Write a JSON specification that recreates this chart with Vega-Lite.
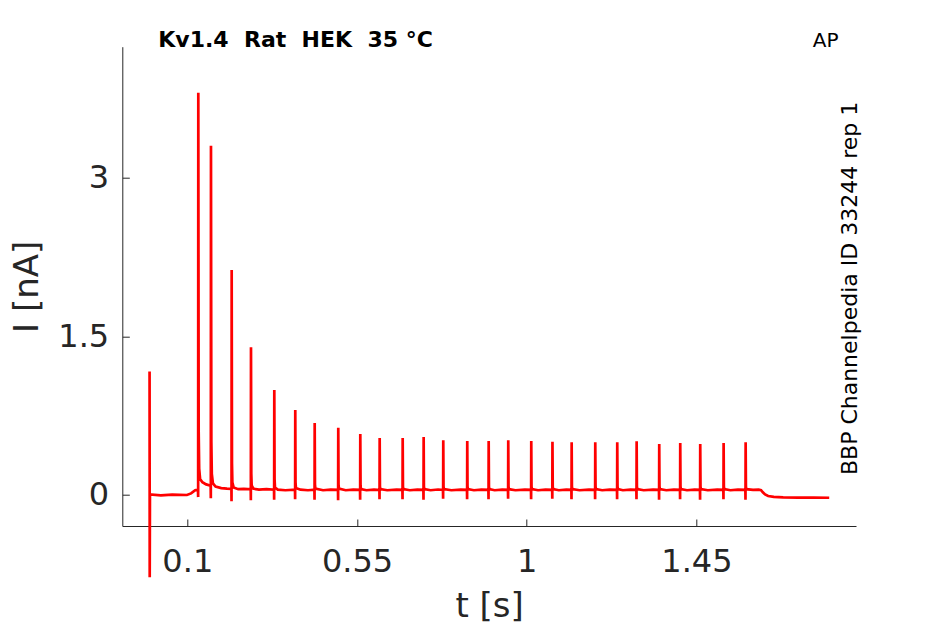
{
  "$schema": "https://vega.github.io/schema/vega-lite/v6.json",
  "autosize": {"type": "none"},
  "width": 733.7,
  "height": 479.3,
  "padding": {"left": 122.3, "top": 46.7, "right": 89, "bottom": 98},
  "background": "white",
  "config": {
    "view": {"stroke": null},
    "font": "DejaVu Sans",
    "axis": {
      "grid": false,
      "domainColor": "#262626",
      "domainWidth": 1,
      "tickColor": "#262626",
      "tickWidth": 1,
      "tickSize": -7,
      "labelFont": "DejaVu Sans",
      "labelFontSize": 32,
      "labelColor": "#262626",
      "titleFont": "DejaVu Sans",
      "titleFontSize": 34,
      "titleFontWeight": "normal",
      "titleColor": "#262626"
    }
  },
  "layer": [
    {
      "data": {
        "values": [
          {"t": 0.0000, "I": 1.166},
          {"t": 0.0004, "I": -0.778},
          {"t": 0.0010, "I": 0.005},
          {"t": 0.0300, "I": -0.004},
          {"t": 0.0600, "I": 0.003},
          {"t": 0.0990, "I": 0.0},
          {"t": 0.1100, "I": 0.015},
          {"t": 0.1210, "I": 0.045},
          {"t": 0.1284, "I": 0.05},
          {"t": 0.1288, "I": -0.02},
          {"t": 0.1292, "I": 3.80},
          {"t": 0.1302, "I": 0.6},
          {"t": 0.1315, "I": 0.25},
          {"t": 0.1340, "I": 0.15},
          {"t": 0.1400, "I": 0.12},
          {"t": 0.1500, "I": 0.10},
          {"t": 0.1600, "I": 0.09},
          {"t": 0.1620, "I": 0.088},
          {"t": 0.1624, "I": -0.03},
          {"t": 0.1628, "I": 3.30},
          {"t": 0.1638, "I": 0.5},
          {"t": 0.1650, "I": 0.2},
          {"t": 0.1680, "I": 0.11},
          {"t": 0.1750, "I": 0.08},
          {"t": 0.1900, "I": 0.065},
          {"t": 0.2050, "I": 0.06},
          {"t": 0.2170, "I": 0.058},
          {"t": 0.2173, "I": -0.06},
          {"t": 0.2177, "I": 2.127},
          {"t": 0.2185, "I": 0.3},
          {"t": 0.2195, "I": 0.12},
          {"t": 0.2230, "I": 0.07},
          {"t": 0.2350, "I": 0.055},
          {"t": 0.2500, "I": 0.058},
          {"t": 0.2682, "I": 0.055},
          {"t": 0.2685, "I": -0.05},
          {"t": 0.2689, "I": 1.396},
          {"t": 0.2697, "I": 0.2},
          {"t": 0.2707, "I": 0.09},
          {"t": 0.2750, "I": 0.06},
          {"t": 0.2900, "I": 0.05},
          {"t": 0.3100, "I": 0.055},
          {"t": 0.3300, "I": 0.05},
          {"t": 0.3303, "I": -0.045},
          {"t": 0.3307, "I": 0.993},
          {"t": 0.3314, "I": 0.15},
          {"t": 0.3325, "I": 0.07},
          {"t": 0.3400, "I": 0.05},
          {"t": 0.3600, "I": 0.045},
          {"t": 0.3856, "I": 0.05},
          {"t": 0.3859, "I": -0.04},
          {"t": 0.3863, "I": 0.804},
          {"t": 0.3870, "I": 0.12},
          {"t": 0.3880, "I": 0.065},
          {"t": 0.4000, "I": 0.05},
          {"t": 0.4200, "I": 0.045},
          {"t": 0.4371, "I": 0.05},
          {"t": 0.4374, "I": -0.045},
          {"t": 0.4378, "I": 0.681},
          {"t": 0.4385, "I": 0.1},
          {"t": 0.4395, "I": 0.06},
          {"t": 0.4600, "I": 0.045},
          {"t": 0.4800, "I": 0.05},
          {"t": 0.4996, "I": 0.048},
          {"t": 0.4999, "I": -0.05},
          {"t": 0.5003, "I": 0.636},
          {"t": 0.5010, "I": 0.1},
          {"t": 0.5020, "I": 0.06},
          {"t": 0.5200, "I": 0.045},
          {"t": 0.5400, "I": 0.05},
          {"t": 0.5580, "I": 0.048},
          {"t": 0.5583, "I": -0.045},
          {"t": 0.5587, "I": 0.577},
          {"t": 0.5594, "I": 0.09},
          {"t": 0.5605, "I": 0.055},
          {"t": 0.5750, "I": 0.045},
          {"t": 0.5950, "I": 0.05},
          {"t": 0.6094, "I": 0.047},
          {"t": 0.6097, "I": -0.04},
          {"t": 0.6101, "I": 0.539},
          {"t": 0.6108, "I": 0.08},
          {"t": 0.6120, "I": 0.055},
          {"t": 0.6300, "I": 0.045},
          {"t": 0.6550, "I": 0.05},
          {"t": 0.6704, "I": 0.048},
          {"t": 0.6707, "I": -0.04},
          {"t": 0.6711, "I": 0.539},
          {"t": 0.6718, "I": 0.08},
          {"t": 0.6730, "I": 0.055},
          {"t": 0.6900, "I": 0.045},
          {"t": 0.7100, "I": 0.05},
          {"t": 0.7260, "I": 0.048},
          {"t": 0.7263, "I": -0.045},
          {"t": 0.7267, "I": 0.548},
          {"t": 0.7274, "I": 0.08},
          {"t": 0.7285, "I": 0.055},
          {"t": 0.7450, "I": 0.045},
          {"t": 0.7650, "I": 0.052},
          {"t": 0.7780, "I": 0.048},
          {"t": 0.7783, "I": -0.035},
          {"t": 0.7787, "I": 0.517},
          {"t": 0.7794, "I": 0.08},
          {"t": 0.7805, "I": 0.055},
          {"t": 0.8000, "I": 0.045},
          {"t": 0.8250, "I": 0.05},
          {"t": 0.8416, "I": 0.048},
          {"t": 0.8419, "I": -0.04},
          {"t": 0.8423, "I": 0.511},
          {"t": 0.8430, "I": 0.08},
          {"t": 0.8441, "I": 0.055},
          {"t": 0.8600, "I": 0.045},
          {"t": 0.8800, "I": 0.05},
          {"t": 0.8984, "I": 0.048},
          {"t": 0.8987, "I": -0.04},
          {"t": 0.8991, "I": 0.511},
          {"t": 0.8998, "I": 0.08},
          {"t": 0.9009, "I": 0.055},
          {"t": 0.9150, "I": 0.045},
          {"t": 0.9350, "I": 0.05},
          {"t": 0.9503, "I": 0.048},
          {"t": 0.9506, "I": -0.035},
          {"t": 0.9510, "I": 0.517},
          {"t": 0.9517, "I": 0.08},
          {"t": 0.9528, "I": 0.055},
          {"t": 0.9700, "I": 0.045},
          {"t": 0.9950, "I": 0.05},
          {"t": 1.0113, "I": 0.048},
          {"t": 1.0116, "I": -0.04},
          {"t": 1.0120, "I": 0.511},
          {"t": 1.0127, "I": 0.08},
          {"t": 1.0138, "I": 0.055},
          {"t": 1.0300, "I": 0.045},
          {"t": 1.0500, "I": 0.05},
          {"t": 1.0675, "I": 0.048},
          {"t": 1.0678, "I": -0.035},
          {"t": 1.0682, "I": 0.504},
          {"t": 1.0689, "I": 0.08},
          {"t": 1.0700, "I": 0.055},
          {"t": 1.0850, "I": 0.045},
          {"t": 1.1050, "I": 0.05},
          {"t": 1.1184, "I": 0.048},
          {"t": 1.1187, "I": -0.04},
          {"t": 1.1191, "I": 0.498},
          {"t": 1.1198, "I": 0.08},
          {"t": 1.1209, "I": 0.055},
          {"t": 1.1400, "I": 0.045},
          {"t": 1.1650, "I": 0.05},
          {"t": 1.1810, "I": 0.048},
          {"t": 1.1813, "I": -0.04},
          {"t": 1.1817, "I": 0.498},
          {"t": 1.1824, "I": 0.08},
          {"t": 1.1835, "I": 0.055},
          {"t": 1.2000, "I": 0.045},
          {"t": 1.2200, "I": 0.05},
          {"t": 1.2393, "I": 0.048},
          {"t": 1.2396, "I": -0.04},
          {"t": 1.2400, "I": 0.498},
          {"t": 1.2407, "I": 0.08},
          {"t": 1.2418, "I": 0.055},
          {"t": 1.2550, "I": 0.045},
          {"t": 1.2750, "I": 0.05},
          {"t": 1.2907, "I": 0.048},
          {"t": 1.2910, "I": -0.04},
          {"t": 1.2914, "I": 0.508},
          {"t": 1.2921, "I": 0.08},
          {"t": 1.2932, "I": 0.055},
          {"t": 1.3100, "I": 0.045},
          {"t": 1.3350, "I": 0.05},
          {"t": 1.3506, "I": 0.048},
          {"t": 1.3509, "I": -0.045},
          {"t": 1.3513, "I": 0.482},
          {"t": 1.3520, "I": 0.08},
          {"t": 1.3531, "I": 0.055},
          {"t": 1.3700, "I": 0.045},
          {"t": 1.3900, "I": 0.05},
          {"t": 1.4063, "I": 0.048},
          {"t": 1.4066, "I": -0.04},
          {"t": 1.4070, "I": 0.492},
          {"t": 1.4077, "I": 0.08},
          {"t": 1.4088, "I": 0.055},
          {"t": 1.4250, "I": 0.045},
          {"t": 1.4450, "I": 0.05},
          {"t": 1.4593, "I": 0.048},
          {"t": 1.4596, "I": -0.045},
          {"t": 1.4600, "I": 0.482},
          {"t": 1.4607, "I": 0.08},
          {"t": 1.4618, "I": 0.055},
          {"t": 1.4800, "I": 0.045},
          {"t": 1.5050, "I": 0.05},
          {"t": 1.5213, "I": 0.048},
          {"t": 1.5216, "I": -0.04},
          {"t": 1.5220, "I": 0.492},
          {"t": 1.5227, "I": 0.08},
          {"t": 1.5238, "I": 0.055},
          {"t": 1.5400, "I": 0.045},
          {"t": 1.5600, "I": 0.05},
          {"t": 1.5797, "I": 0.048},
          {"t": 1.5800, "I": -0.045},
          {"t": 1.5804, "I": 0.498},
          {"t": 1.5811, "I": 0.08},
          {"t": 1.5822, "I": 0.055},
          {"t": 1.6000, "I": 0.048},
          {"t": 1.6150, "I": 0.05},
          {"t": 1.6213, "I": 0.045},
          {"t": 1.6260, "I": 0.025},
          {"t": 1.6320, "I": 0.005},
          {"t": 1.6400, "I": -0.01},
          {"t": 1.6550, "I": -0.018},
          {"t": 1.6800, "I": -0.022},
          {"t": 1.7200, "I": -0.025},
          {"t": 1.7600, "I": -0.024},
          {"t": 1.8020, "I": -0.026}
        ]
      },
      "mark": {"type": "line", "color": "#ff0000", "strokeWidth": 2.7, "clip": false},
      "encoding": {
        "x": {
          "field": "t", "type": "quantitative",
          "scale": {"domain": [-0.0723, 1.873], "nice": false, "zero": false},
          "axis": {"values": [0.1, 0.55, 1, 1.45], "format": ".3~g", "title": "t [s]", "labelPadding": 27.4, "titlePadding": 11.6}
        },
        "y": {
          "field": "I", "type": "quantitative",
          "scale": {"domain": [-0.293, 4.236], "nice": false, "zero": false},
          "axis": {"values": [0, 1.5, 3], "format": ".3~g", "title": "I [nA]", "labelPadding": 20.6, "titlePadding": 13.5}
        },
        "order": {"field": "t", "type": "quantitative"}
      }
    },
    {
      "data": {"values": [{"label": "Kv1.4\u00a0 Rat\u00a0 HEK\u00a0 35 °C"}]},
      "mark": {"type": "text", "align": "left", "baseline": "alphabetic", "font": "DejaVu Sans", "fontSize": 22, "fontWeight": "bold", "fill": "black"},
      "encoding": {
        "text": {"field": "label"},
        "x": {"datum": 0.0231, "type": "quantitative"},
        "y": {"datum": 4.236, "type": "quantitative"}
      }
    },
    {
      "data": {"values": [{"label": "AP"}]},
      "mark": {"type": "text", "align": "right", "baseline": "alphabetic", "font": "DejaVu Sans", "fontSize": 20, "fontWeight": "normal", "fill": "black"},
      "encoding": {
        "text": {"field": "label"},
        "x": {"datum": 1.8265, "type": "quantitative"},
        "y": {"datum": 4.236, "type": "quantitative"}
      }
    },
    {
      "data": {"values": [{"label": "BBP Channelpedia ID 33244 rep 1"}]},
      "mark": {"type": "text", "align": "center", "baseline": "alphabetic", "angle": 270, "font": "DejaVu Sans", "fontSize": 22, "fontWeight": "normal", "fill": "black"},
      "encoding": {
        "text": {"field": "label"},
        "x": {"datum": 1.8768, "type": "quantitative"},
        "y": {"datum": 1.952, "type": "quantitative"}
      }
    }
  ]
}
